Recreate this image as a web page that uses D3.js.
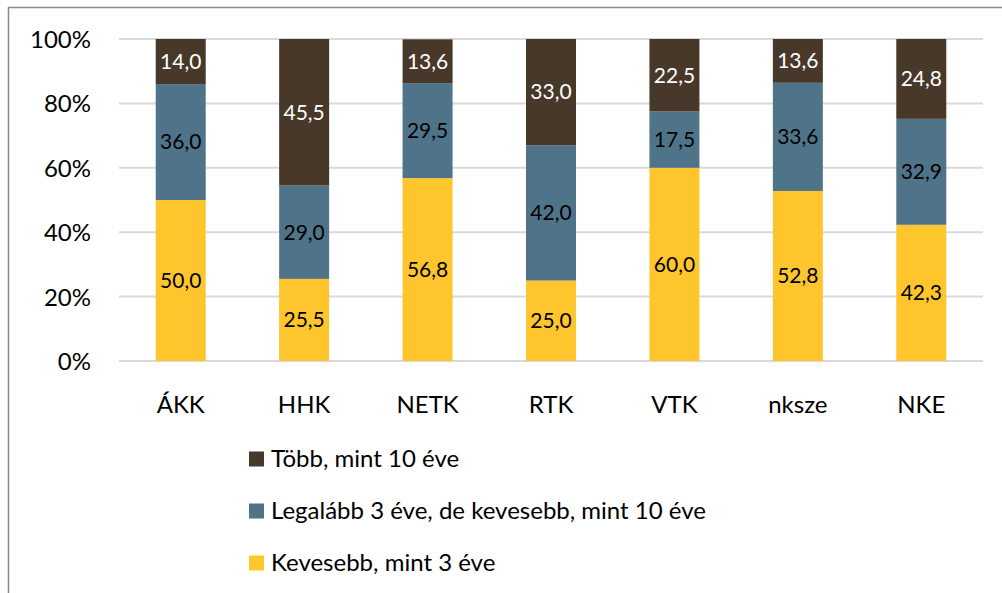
<!DOCTYPE html>
<html><head><meta charset="utf-8">
<script src="https://cdn.jsdelivr.net/npm/d3@7"></script>
<style>body{margin:0;background:#fff}svg{display:block}</style>
</head><body>
<svg id="c" width="1002" height="593"></svg>
<script>
const categories = ["ÁKK","HHK","NETK","RTK","VTK","nksze","NKE"];
const seriesNames = ["Kevesebb, mint 3 éve","Legalább 3 éve, de kevesebb, mint 10 éve","Több, mint 10 éve"];
const kevesebb = [50.0,25.5,56.8,25.0,60.0,52.8,42.3];
const legalabb = [36.0,29.0,29.5,42.0,17.5,33.6,32.9];
const tobb = [14.0,45.5,13.6,33.0,22.5,13.6,24.8];
const yTicks = [0,20,40,60,80,100];
const colors = ["#fec52d","#4f748a","#473829"];
const labelColors = ["#000","#000","#fff"];
const FONT = "Lato, 'Open Sans', sans-serif";

const svg = d3.select("#c");
// outer frame
svg.append("line").attr("x1",8).attr("x2",1002).attr("y1",7.5).attr("y2",7.5).attr("stroke","#8a8a8a").attr("stroke-width",1.5);
svg.append("line").attr("x1",8.5).attr("x2",8.5).attr("y1",7).attr("y2",593).attr("stroke","#8a8a8a").attr("stroke-width",1.5);

const x = d3.scaleBand().domain(categories).range([119,983]).paddingInner(0.595).paddingOuter(0.2975);
const y = d3.scaleLinear().domain([0,100]).range([361,39]);

const g = svg.append("g");
// gridlines
g.selectAll("line.grid").data(yTicks).join("line")
 .attr("x1",119).attr("x2",983).attr("y1",d=>y(d)).attr("y2",d=>y(d))
 .attr("stroke","#d9d9d9").attr("stroke-width",2);

// y axis labels
const yAxis = d3.axisLeft(y).tickValues(yTicks).tickFormat(d=>d+"%").tickSize(0).tickPadding(0);
const ya = svg.append("g").attr("transform","translate(91,0)").call(yAxis);
ya.select(".domain").remove();
ya.selectAll("text").attr("font-family",FONT).attr("font-size",24).attr("fill","#000").attr("dy","0.35em");

const data = categories.map((c,i)=>({cat:c, v:[kevesebb[i],legalabb[i],tobb[i]]}));
const stacked = d3.stack().keys([0,1,2]).value((d,k)=>d.v[k])(data);

stacked.forEach((layer,si)=>{
  const lg = g.append("g");
  lg.selectAll("rect").data(layer).join("rect")
    .attr("x",d=>x(d.data.cat)).attr("width",x.bandwidth())
    .attr("y",d=>y(Math.min(d[1],100))).attr("height",d=>y(d[0])-y(Math.min(d[1],100)))
    .attr("fill",colors[si]);
  lg.selectAll("text").data(layer).join("text")
    .attr("x",d=>x(d.data.cat)+x.bandwidth()/2)
    .attr("y",d=>(y(d[0])+y(Math.min(d[1],100)))/2)
    .attr("dy","0.35em").attr("text-anchor","middle")
    .attr("font-family",FONT).attr("font-size",21).attr("fill",labelColors[si])
    .text(d=>d3.format(".1f")(d.data.v[si]).replace(".",","));
});

// x axis labels
const xAxis = d3.axisBottom(x).tickSize(0).tickPadding(0);
const xa = svg.append("g").attr("transform","translate(0,405)").call(xAxis);
xa.select(".domain").remove();
xa.selectAll("text").attr("font-family",FONT).attr("font-size",24).attr("fill","#000").attr("dy","0.35em");

// legend
const legendOrder = [2,1,0];
const lgd = svg.append("g");
legendOrder.forEach((si,i)=>{
  const cy = 459 + i*52;
  lgd.append("rect").attr("x",249).attr("y",cy-7.5).attr("width",15).attr("height",15).attr("fill",colors[si]);
  lgd.append("text").attr("x",271).attr("y",cy).attr("dy","0.35em")
    .attr("font-family",FONT).attr("font-size",24).attr("fill","#000").text(seriesNames[si]);
});
</script>
</body></html>
